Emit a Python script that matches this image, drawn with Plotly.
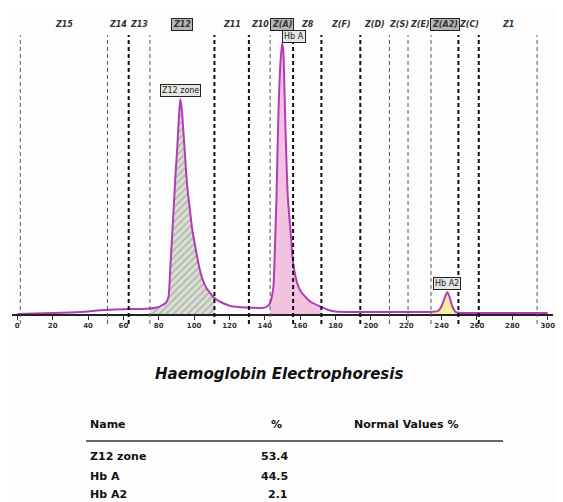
import plotly.graph_objects as go

# ---- data ----
mobility = [0, 10, 20, 30, 40, 45, 50, 55, 63, 70, 75, 80, 82, 84, 85.5, 86.5, 88.3, 89.5, 90.5, 91.5,
            92.2, 93, 94.5, 96, 97.9, 99, 100.7, 102.5, 104.7, 107, 110.4, 111.5, 115, 120.5, 125, 131,
            138, 141, 143, 143.8, 144.9, 145.8, 146.6, 147.7, 148.8, 149.8, 150.5, 151.1, 151.7, 153,
            154.5, 156, 158.3, 160.2, 163, 166, 172, 176, 180, 190, 200, 210, 220, 230, 234, 236,
            238, 240, 241.5, 243.2, 244.5, 246, 248, 249.5, 260, 280, 300]
absorbance = [0, 0.5, 1, 1.5, 2.5, 3.5, 4, 4.5, 5, 5, 5.5, 7, 9, 11, 17, 45, 101, 140, 167, 200,
              215, 205, 168, 130, 100, 84, 67, 50, 35, 26, 18, 16, 12, 8, 7, 6.5,
              6, 7, 11, 16, 28, 70, 117, 201, 250, 271, 262, 225, 184, 117,
              84, 51, 31, 23, 17, 12, 7, 4, 2.5, 2, 2, 2, 2, 2, 2, 2.5,
              3, 8, 15, 22, 17, 8, 2, 1.2, 1, 1, 1]

zone_names = ["Z15", "Z14", "Z13", "Z12", "Z11", "Z10", "Z(A)", "Z8", "Z(F)", "Z(D)", "Z(S)",
              "Z(E)", "Z(A2)", "Z(C)", "Z1"]
zone_bounds = [1.7, 51, 63, 75, 111.5, 131, 143, 156, 172, 194, 210.5, 221, 234, 249.5, 261, 294]
thick_bounds = [63, 111.5, 131, 156, 172, 194, 249.5, 261]
boxed_zones = ["Z12", "Z(A)", "Z(A2)"]

peak_names = ["Z12 zone", "Hb A", "Hb A2"]
peak_fill = [(75, 111.5), (143, 172), (234, 249.5)]
tick_vals = list(range(0, 301, 20))
tick_text = [str(v) for v in tick_vals]

table_names = ["Z12 zone", "Hb A", "Hb A2"]
table_pct = ["53.4", "44.5", "2.1"]
table_header = ["Name", "%", "Normal Values %"]
title_text = "Haemoglobin Electrophoresis"

# the page body adds an 8px offset; the figure is sized so that it fills the window
OFF = 8
W, H = 563 - OFF, 502 - OFF
L, R = 12 - OFF, 10
PW = W - L - R

def py(ypx):
    return 1 - (ypx - OFF) / H

def px(xpx):
    return (xpx - OFF - L) / PW

fig = go.Figure()

curve_color = "#b23db3"
fill_styles = [
    dict(fillpattern=dict(shape="/", fgcolor="#7f877f", bgcolor="#d9ded3", size=5, solidity=0.3)),
    dict(fillcolor="#f2c3e0"),
    dict(fillcolor="#f4ee9a"),
]
for (a, b), st in zip(peak_fill, fill_styles):
    xs = [x for x in mobility if a <= x <= b]
    ys = [y for x, y in zip(mobility, absorbance) if a <= x <= b]
    fig.add_trace(go.Scatter(x=xs, y=ys, mode="lines", fill="tozeroy",
                             line=dict(width=0, shape="spline", color="rgba(0,0,0,0)"),
                             hoverinfo="skip", showlegend=False, **st))

fig.add_trace(go.Scatter(x=mobility, y=absorbance, mode="lines",
                         line=dict(color=curve_color, width=2, shape="spline", smoothing=0.6),
                         showlegend=False))

# zone boundary lines
for b in zone_bounds:
    thick = b in thick_bounds
    fig.add_shape(type="line", xref="x", yref="y domain", x0=b, x1=b, y0=-0.035, y1=0.982,
                  line=dict(color="#111" if thick else "#555", width=2 if thick else 1,
                            dash="4px,3px"),
                  layer="above")

# zone labels
for i, name in enumerate(zone_names):
    xc = (zone_bounds[i] + zone_bounds[i + 1]) / 2
    boxed = name in boxed_zones
    fig.add_annotation(x=xc, xref="x", y=1.02, yref="y domain", yanchor="middle",
                       text="<b><i>%s</i></b>" % name,
                       showarrow=False, font=dict(family="DejaVu Sans", size=8, color="#333"),
                       bgcolor="#b5b5b5" if boxed else None,
                       bordercolor="#222" if boxed else None,
                       borderwidth=1 if boxed else 0, borderpad=1)

# peak labels
for k, (name, (a, b)) in enumerate(zip(peak_names, peak_fill)):
    pts = [(x, y) for x, y in zip(mobility, absorbance) if a <= x <= b]
    pkx, pky = max(pts, key=lambda p: p[1])
    if k == 1:
        fig.add_annotation(x=pkx, xref="x", y=pky + 6, yref="y", xanchor="left", yanchor="middle",
                           text=name, showarrow=False,
                           font=dict(family="DejaVu Sans", size=8, color="#222"),
                           bgcolor="#e4e6e2", bordercolor="#222", borderwidth=1, borderpad=1)
    else:
        fig.add_annotation(x=pkx, xref="x", y=pky + 2, yref="y", xanchor="center", yanchor="bottom",
                           text=name, showarrow=False,
                           font=dict(family="DejaVu Sans", size=8, color="#222"),
                           bgcolor="#e4e6e2", bordercolor="#222", borderwidth=1, borderpad=1)

# title & table
fig.add_annotation(x=px(279), y=py(374), xref="paper", yref="paper", showarrow=False,
                   xanchor="center", yanchor="middle",
                   text="<b><i>%s</i></b>" % title_text,
                   font=dict(family="DejaVu Sans", size=15, color="#111"))
hdr_x = [88, 276, 352]
hdr_anchor = ["left", "center", "left"]
for t, x, an in zip(table_header, hdr_x, hdr_anchor):
    fig.add_annotation(x=px(x), y=py(424), xref="paper", yref="paper", showarrow=False,
                       xanchor=an, yanchor="middle", text="<b>%s</b>" % t,
                       font=dict(family="DejaVu Sans", size=11, color="#111"))
fig.add_shape(type="line", xref="paper", yref="paper", x0=px(86), x1=px(503), y0=py(441), y1=py(441),
              line=dict(color="#333", width=1.5))
row_y = [456, 476, 494]
for n, p, ry in zip(table_names, table_pct, row_y):
    fig.add_annotation(x=px(88), y=py(ry), xref="paper", yref="paper", showarrow=False,
                       xanchor="left", yanchor="middle", text="<b>%s</b>" % n,
                       font=dict(family="DejaVu Sans", size=11, color="#111"))
    fig.add_annotation(x=px(290), y=py(ry), xref="paper", yref="paper", showarrow=False,
                       xanchor="right", yanchor="middle", text="<b>%s</b>" % p,
                       font=dict(family="DejaVu Sans", size=11, color="#111"))

fig.update_layout(
    width=W, height=H,
    margin=dict(l=L, r=R, t=0, b=0, autoexpand=False),
    paper_bgcolor="#fdfdfd", plot_bgcolor="#fdfdfd",
    xaxis=dict(range=[-3, 303], tickvals=tick_vals, ticktext=tick_text, showgrid=False,
               zeroline=False, showline=True, linecolor="#222", linewidth=1.5,
               ticks="outside", ticklen=4, tickcolor="#333", automargin=False,
               tickfont=dict(family="DejaVu Sans", size=7, color="#333", weight="bold"),
               anchor="y", fixedrange=True),
    yaxis=dict(domain=[1 - (314 - OFF) / H, 1 - (30 - OFF) / H], range=[0, 284], visible=False,
               fixedrange=True),
)

fig.write_html("out.html")
